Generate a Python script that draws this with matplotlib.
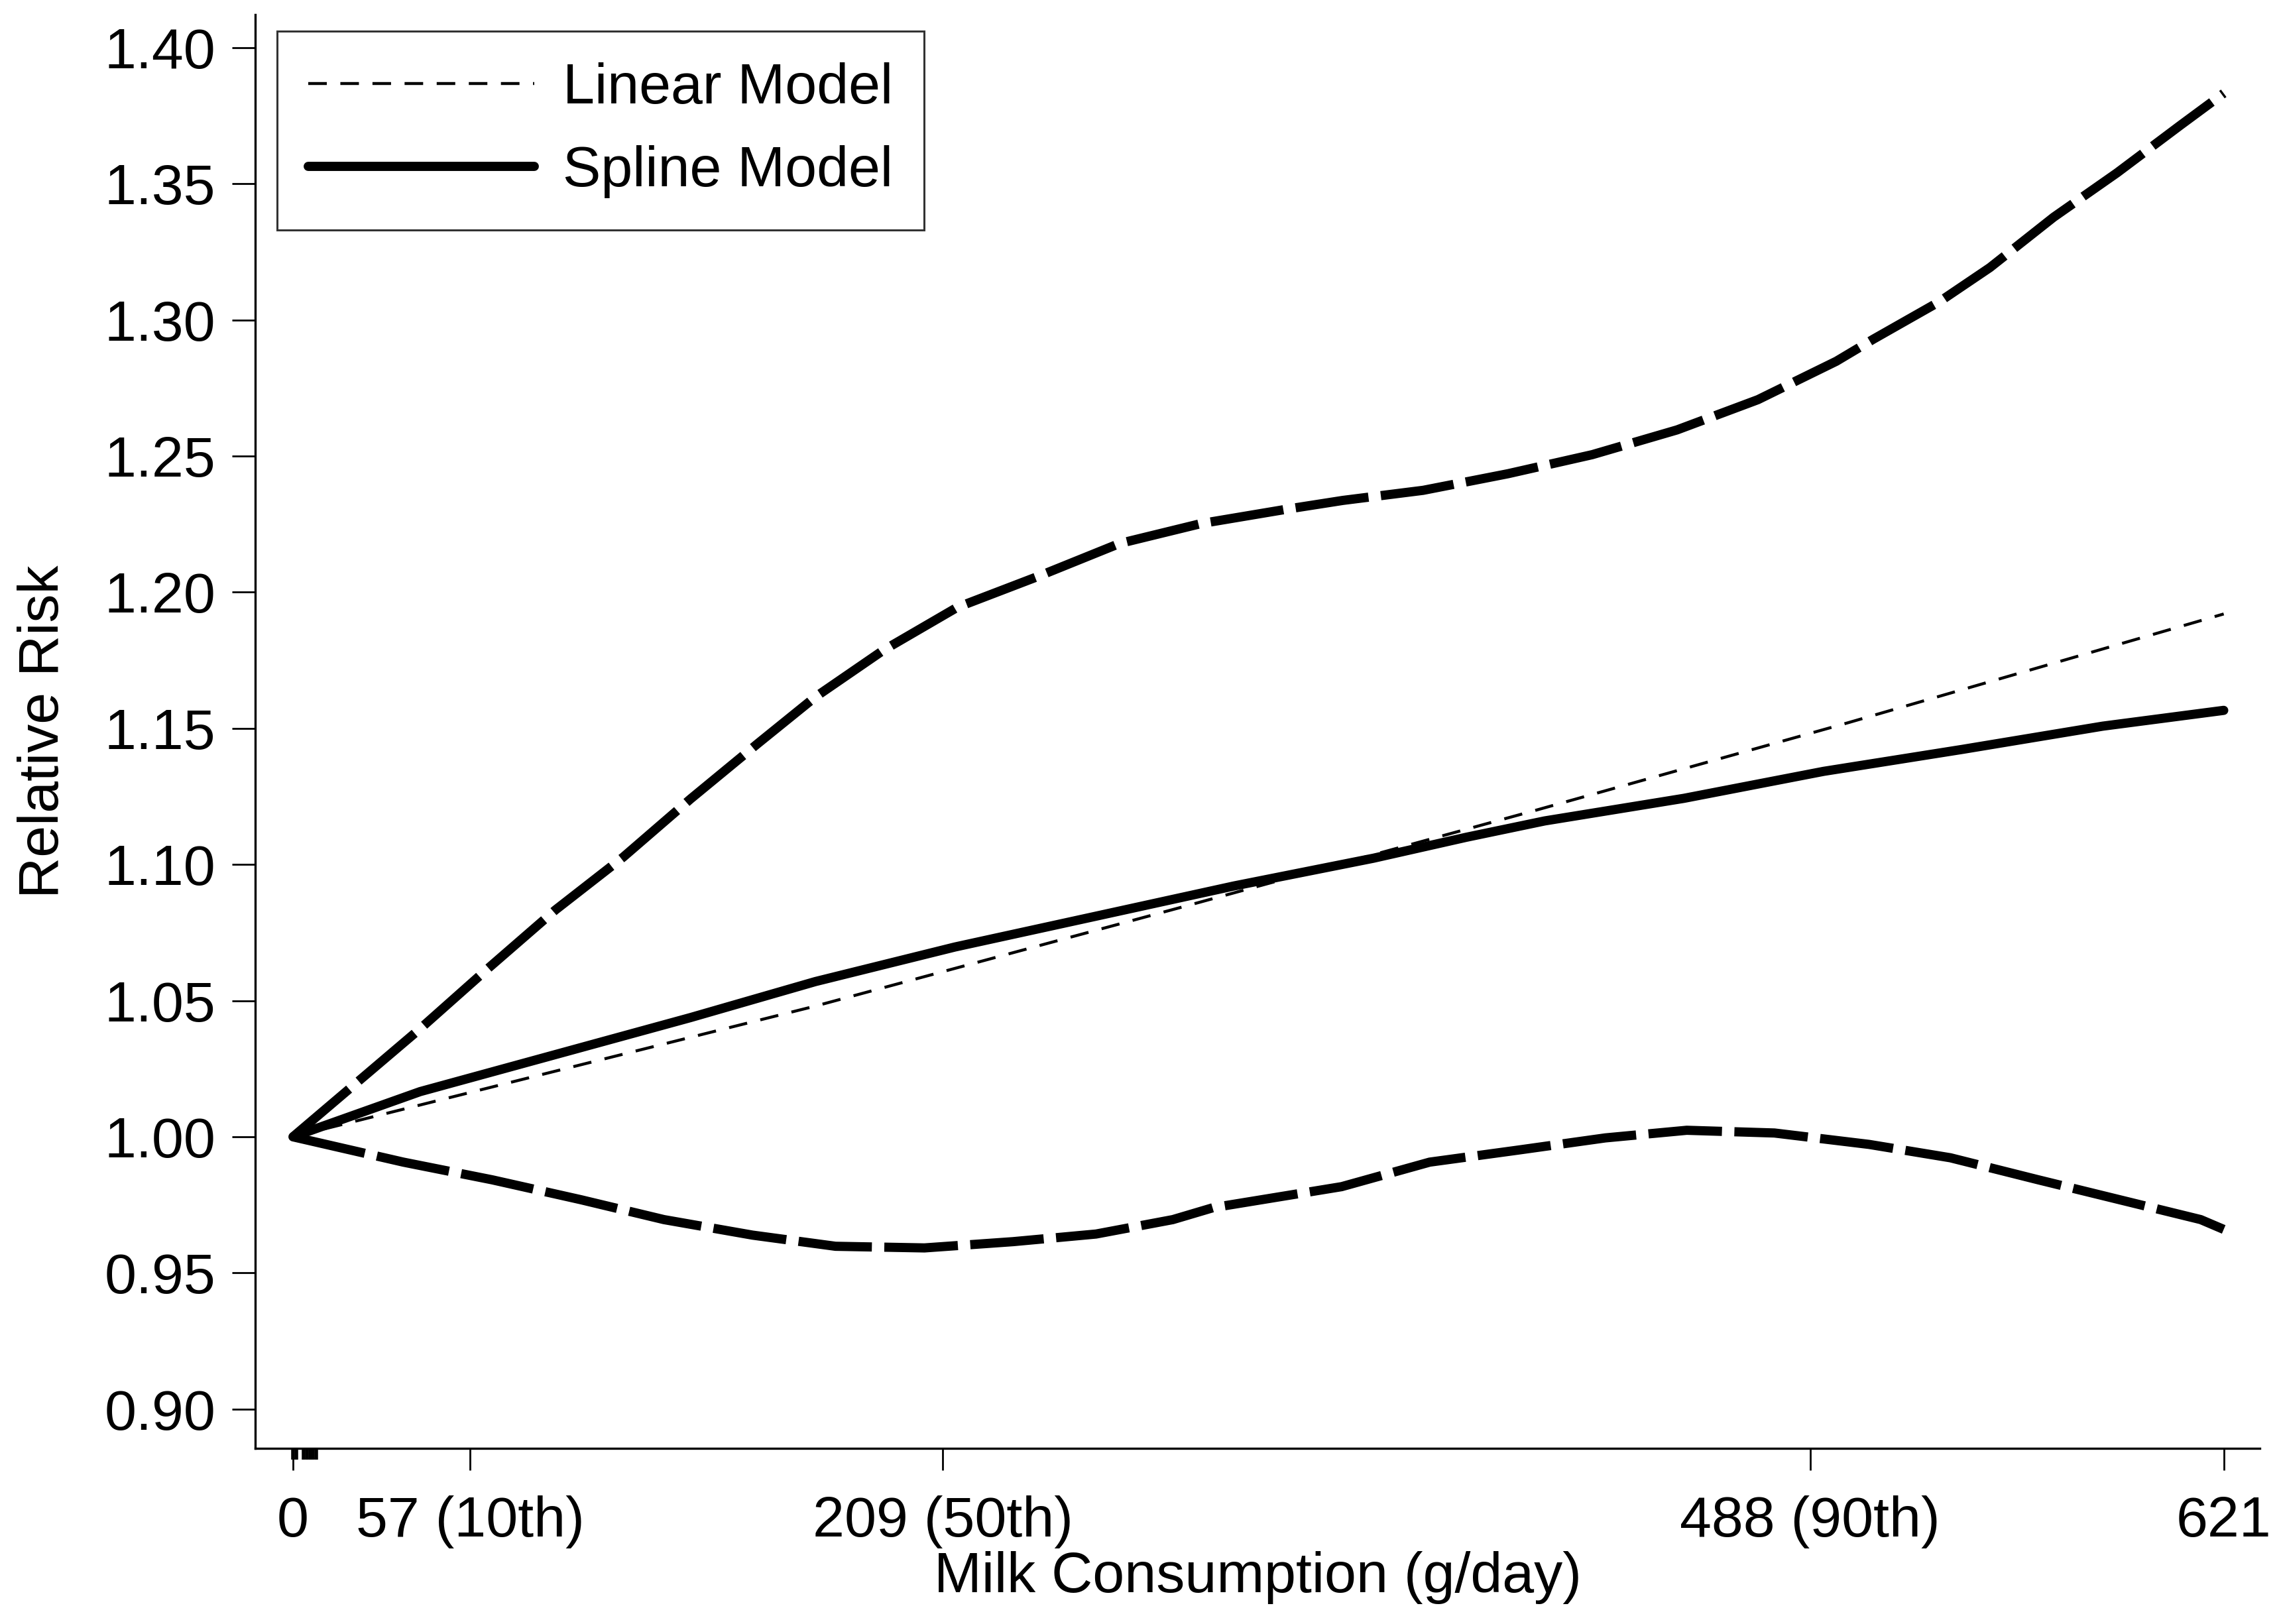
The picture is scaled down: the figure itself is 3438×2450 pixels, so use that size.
import matplotlib
matplotlib.use("Agg")
import matplotlib.pyplot as plt
from matplotlib.transforms import blended_transform_factory

plt.rcParams['font.family'] = ['Liberation Sans', 'DejaVu Sans']

# ---- data ----
x_upper = [0, 40.9, 62.7, 84.4, 106.2, 127.9, 149.7, 168.0, 189.8, 213.6, 239.9,
           265.9, 292.1, 320.3, 337.7, 363.5, 390.8, 417.9, 445.2, 471.2, 496.4,
           508.3, 529.6, 545.8, 566.3, 586.7, 607.0, 621]
y_upper = [1.000, 1.0397, 1.0618, 1.0833, 1.1027, 1.1241, 1.1446, 1.1615, 1.1786,
           1.1944, 1.2059, 1.2179, 1.2252, 1.2306, 1.2337, 1.2374, 1.2435, 1.2505,
           1.2596, 1.2707, 1.2848, 1.2929, 1.3067, 1.3192, 1.3377, 1.3540, 1.3714,
           1.3832]

x_spline = [0, 40.9, 84.4, 127.9, 168.0, 212.9, 257.8, 302.6, 347.5, 377.4, 402.6,
            447.4, 492.3, 537.1, 582.1, 621]
y_spline = [1.000, 1.0166, 1.0302, 1.0438, 1.0570, 1.0697, 1.0809, 1.0921, 1.1023,
            1.1100, 1.1160, 1.1243, 1.1342, 1.1423, 1.1508, 1.1566]

x_linear = [0, 84, 168, 288, 400, 500, 621]
y_linear = [1.000, 1.024, 1.048, 1.085, 1.120, 1.152, 1.192]

x_lower = [0, 35.5, 64.1, 92.6, 119.3, 147.8, 174.5, 203.1, 231.6, 258.3, 283.0,
           296.0, 337.3, 365.6, 393.9, 422.1, 448.3, 476.5, 507.0, 533.1, 561.4,
           587.5, 613.6, 621]
y_lower = [1.000, 0.9907, 0.9842, 0.9769, 0.9696, 0.9639, 0.9598, 0.9592, 0.9615,
           0.9643, 0.9696, 0.9740, 0.9817, 0.9907, 0.9951, 0.9996, 1.0024, 1.0014,
           0.9972, 0.9923, 0.9842, 0.9769, 0.9696, 0.9660]

rug_values = [0, 1, 3.5, 4.5, 5.5, 6.5, 7.5]

x_ticks = [0, 57, 209, 488, 621]
x_tick_labels = ["0", "57 (10th)", "209 (50th)", "488 (90th)", "621"]
y_ticks = [0.90, 0.95, 1.00, 1.05, 1.10, 1.15, 1.20, 1.25, 1.30, 1.35, 1.40]

# ---- figure ----
W, H, DPI = 3438, 2450, 100
fig = plt.figure(figsize=(W / DPI, H / DPI), dpi=DPI)
ax = fig.add_axes([385 / W, 1 - 2185 / H, (3409 - 385) / W, (2185 - 22) / H])

thick = 10
ci_dash = (8.0, 1.35)
ax.plot(x_upper, y_upper, color='black', lw=thick, dashes=ci_dash,
        dash_capstyle='butt', dash_joinstyle='round')
ax.plot(x_lower, y_lower, color='black', lw=thick, dashes=ci_dash,
        dash_capstyle='butt', dash_joinstyle='round')
ln_lin, = ax.plot(x_linear, y_linear, color='black', lw=3.2, dashes=(6.3, 4.6),
                  label='Linear Model')
ln_spl, = ax.plot(x_spline, y_spline, color='black', lw=thick,
                  solid_capstyle='round', solid_joinstyle='round',
                  label='Spline Model')

ax.set_xlim(-12.15, 632.6)
ax.set_ylim(0.8856, 1.4121)

# rug
trans = blended_transform_factory(ax.transData, ax.transAxes)
ax.vlines(rug_values, -0.0079, 0, transform=trans, color='black', lw=4,
          clip_on=False)

for s in ['top', 'right']:
    ax.spines[s].set_visible(False)
for s in ['left', 'bottom']:
    ax.spines[s].set_linewidth(2.4)

ax.set_xticks(x_ticks)
ax.set_xticklabels(x_tick_labels)
ax.set_yticks(y_ticks)
ax.set_yticklabels([f"{v:.2f}" for v in y_ticks])
ax.tick_params(axis='both', direction='out', width=2.0, labelsize=62)
ax.tick_params(axis='x', length=24, pad=27)
ax.tick_params(axis='y', length=25, pad=18)

ax.set_xlabel("Milk Consumption (g/day)", fontsize=62, labelpad=3)
ax.set_ylabel("Relative Risk", fontsize=62, labelpad=37)

leg = ax.legend(handles=[ln_lin, ln_spl], loc='upper left',
                bbox_to_anchor=(418 / W, 1 - 47 / H),
                bbox_transform=fig.transFigure, borderaxespad=0,
                fontsize=62, frameon=True, fancybox=False, handlelength=3.95,
                handletextpad=0.5, borderpad=0.55, labelspacing=0.52,
                edgecolor='black')
leg.get_frame().set_linewidth(2.2)

fig.savefig("out.png", dpi=DPI, facecolor='white')
